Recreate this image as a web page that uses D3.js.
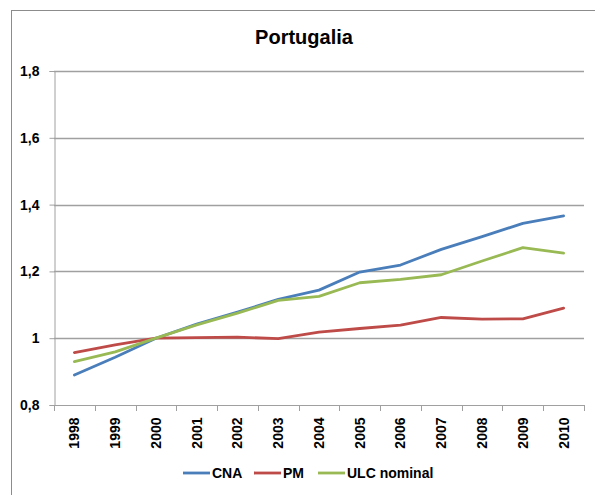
<!DOCTYPE html>
<html>
<head>
<meta charset="utf-8">
<script src="https://cdn.jsdelivr.net/npm/d3@7.9.0/dist/d3.min.js"></script>
<style>
  body { margin: 0; background: #fff; }
  svg { display: block; font-family: "Liberation Sans", Arial, sans-serif; }
  .tick text { font-weight: bold; font-size: 14px; fill: #000; }
</style>
</head>
<body>
<div id="chart"></div>
<script>
const years = ['1998','1999','2000','2001','2002','2003','2004','2005','2006','2007','2008','2009','2010'];
const cna = [0.890, 0.943, 1.000, 1.042, 1.078, 1.116, 1.144, 1.198, 1.219, 1.266, 1.304, 1.344, 1.366];
const pm  = [0.957, 0.980, 1.000, 1.002, 1.003, 0.999, 1.018, 1.029, 1.039, 1.062, 1.057, 1.058, 1.090];
const ulc = [0.930, 0.959, 1.000, 1.040, 1.075, 1.113, 1.125, 1.166, 1.176, 1.190, 1.231, 1.271, 1.255];
const yTicks = [0.8, 1.0, 1.2, 1.4, 1.6, 1.8];

const series = [
  { name: 'CNA', values: cna, color: '#4a7ebb' },
  { name: 'PM', values: pm, color: '#be4b48' },
  { name: 'ULC nominal', values: ulc, color: '#98b954' },
];

const W = 595, H = 495;
const svg = d3.select('#chart').append('svg')
  .attr('width', W).attr('height', H);

// outer frame
svg.append('rect')
  .attr('x', 11.5).attr('y', 10.5)
  .attr('width', 600).attr('height', 600)
  .attr('fill', 'none').attr('stroke', '#8c8c8c').attr('stroke-width', 1);

const x = d3.scaleBand().domain(years).range([54, 584]).padding(0);
const y = d3.scaleLinear().domain([0.8, 1.8]).range([405, 71]);

const fmt = d3.formatLocale({ decimal: ',', thousands: '.', grouping: [3], currency: ['', ''] }).format('.1~f');

// gridlines
svg.append('g')
  .selectAll('line')
  .data(yTicks.filter(d => d > 0.8))
  .join('line')
  .attr('x1', 54).attr('x2', 584)
  .attr('y1', d => Math.round(y(d)) + 0.5).attr('y2', d => Math.round(y(d)) + 0.5)
  .attr('stroke', '#a0a0a0').attr('stroke-width', 1.3);

// y axis
const yAxis = svg.append('g')
  .attr('transform', 'translate(54.5,0)')
  .call(d3.axisLeft(y).tickValues(yTicks).tickFormat(fmt).tickSize(5).tickPadding(10));
yAxis.select('.domain').attr('stroke', '#a0a0a0');
yAxis.selectAll('.tick line').attr('stroke', '#a0a0a0');

// x axis
const xAxis = svg.append('g')
  .attr('transform', 'translate(0,405.5)')
  .call(d3.axisBottom(x).tickSize(0).tickPadding(12));
xAxis.select('.domain').attr('stroke', '#a0a0a0').attr('d', 'M54,0H584');
xAxis.selectAll('.tick text')
  .attr('transform', 'rotate(-90)')
  .attr('text-anchor', 'end')
  .attr('x', -12).attr('y', 0).attr('dy', '0.35em');

// x tick marks at band edges
svg.append('g')
  .selectAll('line')
  .data(years.map(d => x(d)).concat([x.range()[1]]))
  .join('line')
  .attr('x1', d => Math.round(d) + 0.5).attr('x2', d => Math.round(d) + 0.5)
  .attr('y1', 405).attr('y2', 411)
  .attr('stroke', '#a0a0a0');

// lines
const line = d3.line()
  .x((d, i) => x(years[i]) + x.bandwidth() / 2)
  .y(d => y(d));

svg.append('g')
  .selectAll('path')
  .data(series)
  .join('path')
  .attr('d', d => line(d.values))
  .attr('fill', 'none')
  .attr('stroke', d => d.color)
  .attr('stroke-width', 2.8)
  .attr('stroke-linejoin', 'round')
  .attr('stroke-linecap', 'round');

// title
svg.append('text')
  .attr('x', 304).attr('y', 44)
  .attr('text-anchor', 'middle')
  .attr('font-size', 20).attr('font-weight', 'bold')
  .text('Portugalia');

// legend
const legendPos = [183, 254, 318];
const legend = svg.append('g')
  .selectAll('g')
  .data(series)
  .join('g')
  .attr('transform', (d, i) => `translate(${legendPos[i]},473)`);
legend.append('line')
  .attr('x1', 0).attr('x2', 27)
  .attr('stroke', d => d.color).attr('stroke-width', 2.8);
legend.append('text')
  .attr('x', 29).attr('dy', '0.35em')
  .attr('font-size', 14).attr('font-weight', 'bold')
  .text(d => d.name);
</script>
</body>
</html>
